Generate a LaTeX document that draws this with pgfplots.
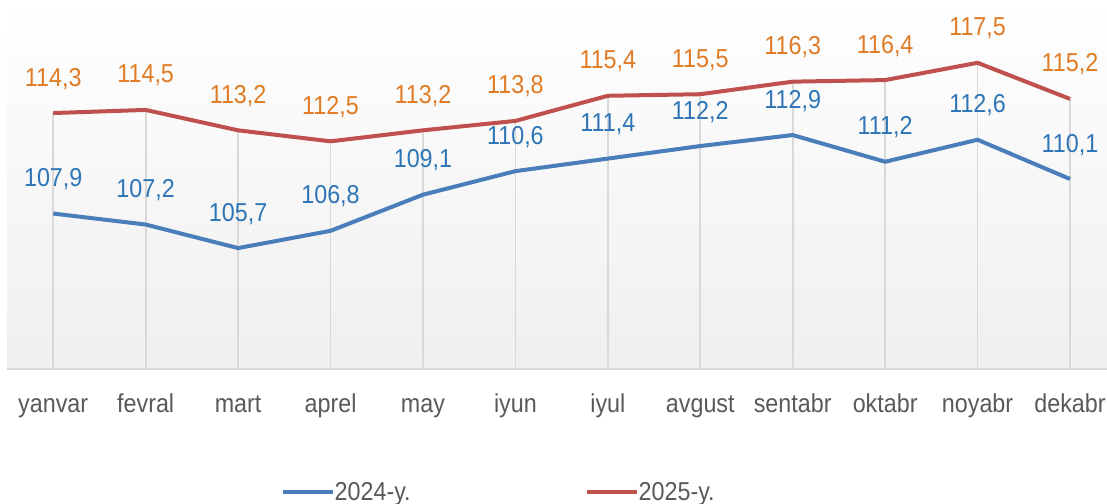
\documentclass[border=0pt]{standalone}
\usepackage{pgfplots}
\pgfplotsset{compat=1.18}
\usepackage{fontspec}
\setmainfont[FakeStretch=0.9]{Liberation Sans}
\definecolor{lblue}{RGB}{74,126,187}
\definecolor{lred}{RGB}{192,80,77}
\definecolor{tblue}{RGB}{46,117,182}
\definecolor{torange}{RGB}{224,123,36}
\definecolor{gridc}{RGB}{217,217,217}
\definecolor{tickc}{RGB}{89,89,89}
\definecolor{bgbot}{RGB}{239,239,239}
\pgfplotstableread{
x y
0 107.9
1 107.2
2 105.7
3 106.8
4 109.1
5 110.6
6 111.4
7 112.2
8 112.9
9 111.2
10 112.6
11 110.1
}\ydaa
\pgfplotstableread{
x y
0 114.3
1 114.5
2 113.2
3 112.5
4 113.2
5 113.8
6 115.4
7 115.5
8 116.3
9 116.4
10 117.5
11 115.2
}\ydab
\newcommand{\lblfont}{\fontsize{26}{28}\selectfont}
\begin{document}
\begin{tikzpicture}
\path[use as bounding box] (-7bp,-135bp) rectangle (1100bp,369bp);
\begin{axis}[
  scale only axis, width=1100bp, height=369bp,
  xmin=-0.5, xmax=11.4, ymin=98, ymax=121.5,
  axis x line*=bottom, axis y line=none,
  x axis line style={draw=gridc, line width=1.5bp, -},
  xtick={0,...,11},
  xticklabels={yanvar,fevral,mart,aprel,may,iyun,iyul,avgust,sentabr,oktabr,noyabr,dekabr},
  major tick length=0pt,
  xticklabel style={anchor=base, yshift=-43bp, font=\lblfont, text=tickc},
  axis background/.style={top color=white, bottom color=bgbot},
  /pgf/number format/use comma,
  /pgf/number format/fixed,
  /pgf/number format/fixed zerofill,
  /pgf/number format/precision=1,
  /pgf/number format/assume math mode=true,
  legend columns=2,
  legend style={draw=none, fill=none, at={(0.447,-0.3333)}, anchor=center,
    font=\lblfont, text=tickc,
    /tikz/every even column/.append style={column sep=172bp},
    /tikz/every odd column/.append style={column sep=-2bp}},
  legend image code/.code={\draw[#1, line width=4bp] (0bp,0bp) -- (50bp,0bp);},
  nodes near coords align={anchor=base},
]
\addplot[ycomb, draw=gridc, line width=1.8bp, mark=none, forget plot] table[x=x,y=y] {\ydab};
\addplot[lblue, line width=4bp, mark=none,
  nodes near coords,
  every node near coord/.append style={text=tblue, font=\lblfont, anchor=base, yshift=27bp}]
  table[x=x,y=y] {\ydaa};
\addlegendentry{2024-y.}
\addplot[lred, line width=4bp, mark=none,
  nodes near coords,
  every node near coord/.append style={text=torange, font=\lblfont, anchor=base, yshift=27bp}]
  table[x=x,y=y] {\ydab};
\addlegendentry{2025-y.}
\end{axis}
\end{tikzpicture}
\end{document}
